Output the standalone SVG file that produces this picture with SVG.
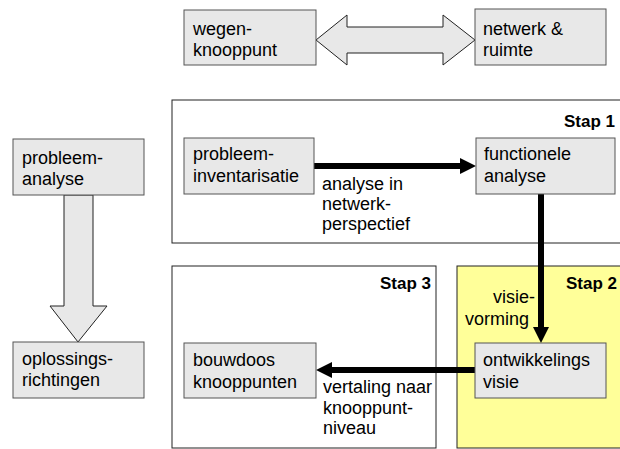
<svg xmlns="http://www.w3.org/2000/svg" width="620" height="449" viewBox="0 0 620 449">
<style>
text{font-family:"Liberation Sans",Arial,sans-serif;font-size:18px;fill:#000}
.stap{fill:#fff;stroke:#222;stroke-width:1}
.box{fill:#e8e8e8;stroke:#555;stroke-width:1}
.big{fill:#e8e8e8;stroke:#222;stroke-width:1}
.title{font-weight:bold;font-size:17px;text-anchor:end}
.conn{stroke:#000;stroke-width:6;fill:none}
</style>
<defs>
<marker id="ah" markerUnits="userSpaceOnUse" markerWidth="16" markerHeight="16" refX="0" refY="8" orient="auto" viewBox="0 0 16 16">
<path d="M0,0 L16,8 L0,16 Z" fill="#000"/>
</marker>
</defs>
<g id="stap1"><rect class="stap" x="172" y="100" width="460" height="143"/><text class="title" x="615" y="127">Stap 1</text></g>
<g id="stap3"><rect class="stap" x="172" y="266" width="264" height="182"/><text class="title" x="431" y="289">Stap 3</text></g>
<g id="stap2"><rect class="stap" x="457" y="266" width="175" height="182" style="fill:#ffff99"/><text class="title" x="617" y="289">Stap 2</text></g>
<g id="labels">
<text x="322" y="190">analyse in</text>
<text x="322" y="210">netwerk-</text>
<text x="322" y="230">perspectief</text>
<text x="493" y="303">visie-</text>
<text x="465" y="325">vorming</text>
<text x="323" y="393">vertaling naar</text>
<text x="323" y="414">knooppunt-</text>
<text x="323" y="434">niveau</text>
</g>
<g id="connectors">
<line class="conn" x1="314" y1="166" x2="460" y2="166" marker-end="url(#ah)"/>
<line class="conn" x1="541" y1="194" x2="541" y2="327" marker-end="url(#ah)"/>
<line class="conn" x1="475" y1="370" x2="332" y2="370" marker-end="url(#ah)"/>
<polygon class="big" points="316,40 347,15 347,27 443,27 443,15 475,40 443,65 443,53 347,53 347,65"/>
<polygon class="big" points="64,195 93,195 93,306 107,306 78,342 50,306 64,306"/>
</g>
<g id="wegen"><rect class="box" x="184" y="10" width="132" height="55"/><text x="193" y="35">wegen-</text><text x="193" y="56">knooppunt</text></g>
<g id="netwerk"><rect class="box" x="475" y="9" width="131" height="56"/><text x="483" y="35">netwerk &amp;</text><text x="483" y="56">ruimte</text></g>
<g id="probleemanalyse"><rect class="box" x="13" y="139" width="131" height="56"/><text x="22" y="164">probleem-</text><text x="22" y="185">analyse</text></g>
<g id="oplossingsrichtingen"><rect class="box" x="13" y="342" width="131" height="56"/><text x="22" y="365">oplossings-</text><text x="22" y="386">richtingen</text></g>
<g id="probleeminventarisatie"><rect class="box" x="184" y="138" width="130" height="56"/><text x="193" y="160">probleem-</text><text x="193" y="182">inventarisatie</text></g>
<g id="functionele"><rect class="box" x="476" y="138" width="139" height="56"/><text x="484" y="160">functionele</text><text x="484" y="182">analyse</text></g>
<g id="bouwdoos"><rect class="box" x="184" y="343" width="132" height="55"/><text x="193" y="366">bouwdoos</text><text x="193" y="388">knooppunten</text></g>
<g id="ontwikkelings"><rect class="box" x="475" y="343" width="131" height="55"/><text x="483" y="366">ontwikkelings</text><text x="483" y="388">visie</text></g>
</svg>
